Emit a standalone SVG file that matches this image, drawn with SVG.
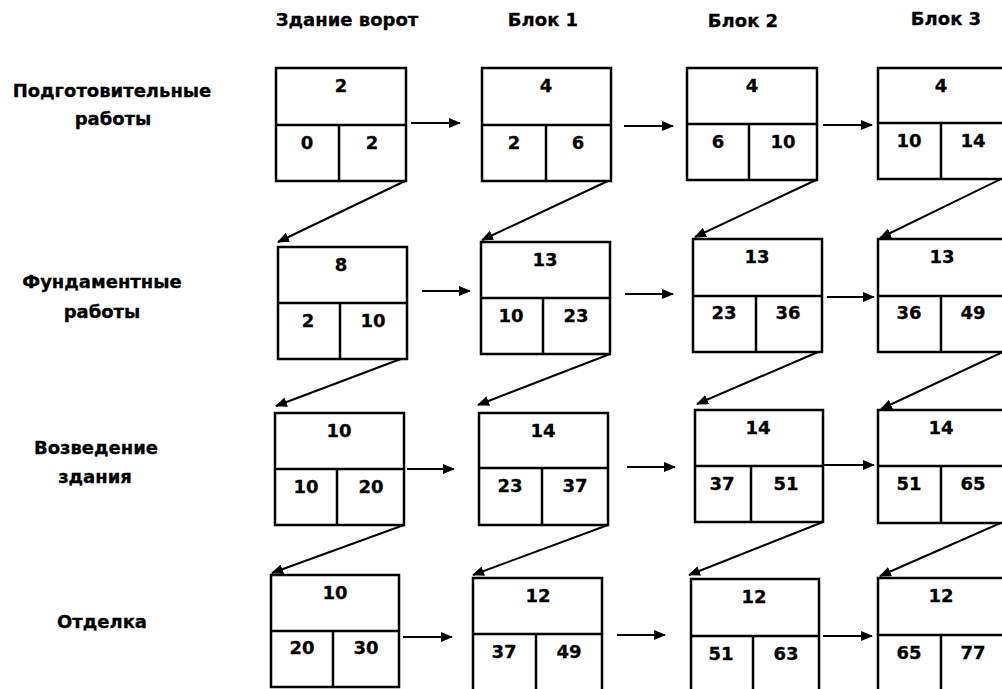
<svg xmlns="http://www.w3.org/2000/svg" width="1002" height="689" viewBox="0 0 1002 689">
<defs>
<marker id="ah" markerWidth="12" markerHeight="10" refX="11" refY="5" orient="auto" markerUnits="userSpaceOnUse">
<path d="M0,0 L12,5 L0,10 z" fill="#000"/>
</marker>
<style>
.t{font-family:"DejaVu Sans","Liberation Sans",sans-serif;font-weight:bold;font-size:18px;fill:#000;text-anchor:middle;stroke:#000;stroke-width:0.3}
.b{fill:#fff;stroke:#000;stroke-width:2.5}
.d{stroke:#000;stroke-width:2.5}
.c{stroke:#000;stroke-width:2;fill:none;marker-end:url(#ah)}
</style>
</defs>
<rect width="1002" height="689" fill="#fff"/>
<g id="headers">
<text class="t" x="347" y="26">Здание ворот</text>
<text class="t" x="543" y="26">Блок 1</text>
<text class="t" x="743" y="27">Блок 2</text>
<text class="t" x="946" y="25">Блок 3</text>
</g>
<g id="rowlabels">
<text class="t" x="112" y="97">Подготовительные</text>
<text class="t" x="113" y="125">работы</text>
<text class="t" x="102" y="288">Фундаментные</text>
<text class="t" x="102" y="318">работы</text>
<text class="t" x="96" y="454">Возведение</text>
<text class="t" x="95" y="483">здания</text>
<text class="t" x="102" y="628">Отделка</text>
</g>
<g id="connectors">
<line class="c" x1="411" y1="123" x2="460" y2="123"/>
<line class="c" x1="624" y1="126" x2="673" y2="126"/>
<line class="c" x1="823" y1="125" x2="872" y2="125"/>
<line class="c" x1="422" y1="291" x2="470" y2="291"/>
<line class="c" x1="625" y1="294" x2="673" y2="294"/>
<line class="c" x1="827" y1="297" x2="874" y2="297"/>
<line class="c" x1="407" y1="469" x2="454" y2="469"/>
<line class="c" x1="627" y1="467" x2="675" y2="467"/>
<line class="c" x1="823" y1="465" x2="874" y2="465"/>
<line class="c" x1="403" y1="637" x2="452" y2="637"/>
<line class="c" x1="617" y1="635" x2="665" y2="635"/>
<line class="c" x1="823" y1="636" x2="872" y2="636"/>
<line class="c" x1="405" y1="181" x2="278" y2="242"/>
<line class="c" x1="610" y1="180" x2="482" y2="240"/>
<line class="c" x1="816" y1="180" x2="695" y2="237"/>
<line class="c" x1="1003" y1="178" x2="880" y2="238"/>
<line class="c" x1="406" y1="357" x2="276" y2="406"/>
<line class="c" x1="610" y1="354" x2="478" y2="405"/>
<line class="c" x1="818" y1="352" x2="697" y2="404"/>
<line class="c" x1="1003" y1="352" x2="881" y2="409"/>
<line class="c" x1="404" y1="525" x2="272" y2="573"/>
<line class="c" x1="608" y1="525" x2="473" y2="575"/>
<line class="c" x1="823" y1="522" x2="689" y2="575"/>
<line class="c" x1="1003" y1="522" x2="880" y2="576"/>
</g>
<g id="n11"><rect class="b" x="276" y="68" width="130" height="113"/><line class="d" x1="276" y1="125" x2="406" y2="125"/><line class="d" x1="339" y1="125" x2="339" y2="181"/><text class="t" x="341" y="92">2</text><text class="t" x="307" y="149">0</text><text class="t" x="372" y="149">2</text></g>
<g id="n12"><rect class="b" x="482" y="68" width="129" height="113"/><line class="d" x1="482" y1="125" x2="611" y2="125"/><line class="d" x1="546" y1="125" x2="546" y2="181"/><text class="t" x="546" y="92">4</text><text class="t" x="514" y="149">2</text><text class="t" x="578" y="149">6</text></g>
<g id="n13"><rect class="b" x="687" y="68" width="130" height="112"/><line class="d" x1="687" y1="124" x2="817" y2="124"/><line class="d" x1="749" y1="124" x2="749" y2="180"/><text class="t" x="752" y="92">4</text><text class="t" x="718" y="148">6</text><text class="t" x="783" y="148">10</text></g>
<g id="n14"><rect class="b" x="878" y="68" width="130" height="111"/><line class="d" x1="878" y1="123" x2="1008" y2="123"/><line class="d" x1="941" y1="123" x2="941" y2="179"/><text class="t" x="941" y="92">4</text><text class="t" x="909" y="147">10</text><text class="t" x="973" y="147">14</text></g>
<g id="n21"><rect class="b" x="278" y="247" width="129" height="112"/><line class="d" x1="278" y1="303" x2="407" y2="303"/><line class="d" x1="340" y1="303" x2="340" y2="359"/><text class="t" x="341" y="271">8</text><text class="t" x="308" y="327">2</text><text class="t" x="373" y="327">10</text></g>
<g id="n22"><rect class="b" x="481" y="242" width="129" height="112"/><line class="d" x1="481" y1="298" x2="610" y2="298"/><line class="d" x1="543" y1="298" x2="543" y2="354"/><text class="t" x="545" y="266">13</text><text class="t" x="511" y="322">10</text><text class="t" x="576" y="322">23</text></g>
<g id="n23"><rect class="b" x="693" y="239" width="129" height="113"/><line class="d" x1="693" y1="296" x2="822" y2="296"/><line class="d" x1="756" y1="296" x2="756" y2="352"/><text class="t" x="757" y="263">13</text><text class="t" x="724" y="319">23</text><text class="t" x="788" y="319">36</text></g>
<g id="n24"><rect class="b" x="878" y="239" width="130" height="113"/><line class="d" x1="878" y1="296" x2="1008" y2="296"/><line class="d" x1="941" y1="296" x2="941" y2="352"/><text class="t" x="942" y="263">13</text><text class="t" x="909" y="319">36</text><text class="t" x="973" y="319">49</text></g>
<g id="n31"><rect class="b" x="275" y="413" width="129" height="112"/><line class="d" x1="275" y1="469" x2="404" y2="469"/><line class="d" x1="337" y1="469" x2="337" y2="525"/><text class="t" x="339" y="437">10</text><text class="t" x="306" y="493">10</text><text class="t" x="371" y="493">20</text></g>
<g id="n32"><rect class="b" x="479" y="413" width="129" height="112"/><line class="d" x1="479" y1="468" x2="608" y2="468"/><line class="d" x1="542" y1="468" x2="542" y2="525"/><text class="t" x="543" y="437">14</text><text class="t" x="510" y="492">23</text><text class="t" x="575" y="492">37</text></g>
<g id="n33"><rect class="b" x="695" y="410" width="128" height="112"/><line class="d" x1="695" y1="466" x2="823" y2="466"/><line class="d" x1="751" y1="466" x2="751" y2="522"/><text class="t" x="758" y="434">14</text><text class="t" x="722" y="490">37</text><text class="t" x="786" y="490">51</text></g>
<g id="n34"><rect class="b" x="878" y="410" width="130" height="113"/><line class="d" x1="878" y1="466" x2="1008" y2="466"/><line class="d" x1="941" y1="466" x2="941" y2="523"/><text class="t" x="941" y="434">14</text><text class="t" x="909" y="490">51</text><text class="t" x="973" y="490">65</text></g>
<g id="n41"><rect class="b" x="271" y="575" width="128" height="112"/><line class="d" x1="271" y1="631" x2="399" y2="631"/><line class="d" x1="333" y1="631" x2="333" y2="687"/><text class="t" x="335" y="599">10</text><text class="t" x="302" y="654">20</text><text class="t" x="366" y="654">30</text></g>
<g id="n42"><rect class="b" x="473" y="578" width="129" height="113"/><line class="d" x1="473" y1="634" x2="602" y2="634"/><line class="d" x1="536" y1="634" x2="536" y2="691"/><text class="t" x="538" y="602">12</text><text class="t" x="504" y="658">37</text><text class="t" x="569" y="658">49</text></g>
<g id="n43"><rect class="b" x="691" y="579" width="128" height="113"/><line class="d" x1="691" y1="636" x2="819" y2="636"/><line class="d" x1="753" y1="636" x2="753" y2="692"/><text class="t" x="754" y="603">12</text><text class="t" x="721" y="660">51</text><text class="t" x="786" y="660">63</text></g>
<g id="n44"><rect class="b" x="878" y="578" width="130" height="113"/><line class="d" x1="878" y1="635" x2="1008" y2="635"/><line class="d" x1="941" y1="635" x2="941" y2="691"/><text class="t" x="941" y="602">12</text><text class="t" x="909" y="659">65</text><text class="t" x="973" y="659">77</text></g>
</svg>
